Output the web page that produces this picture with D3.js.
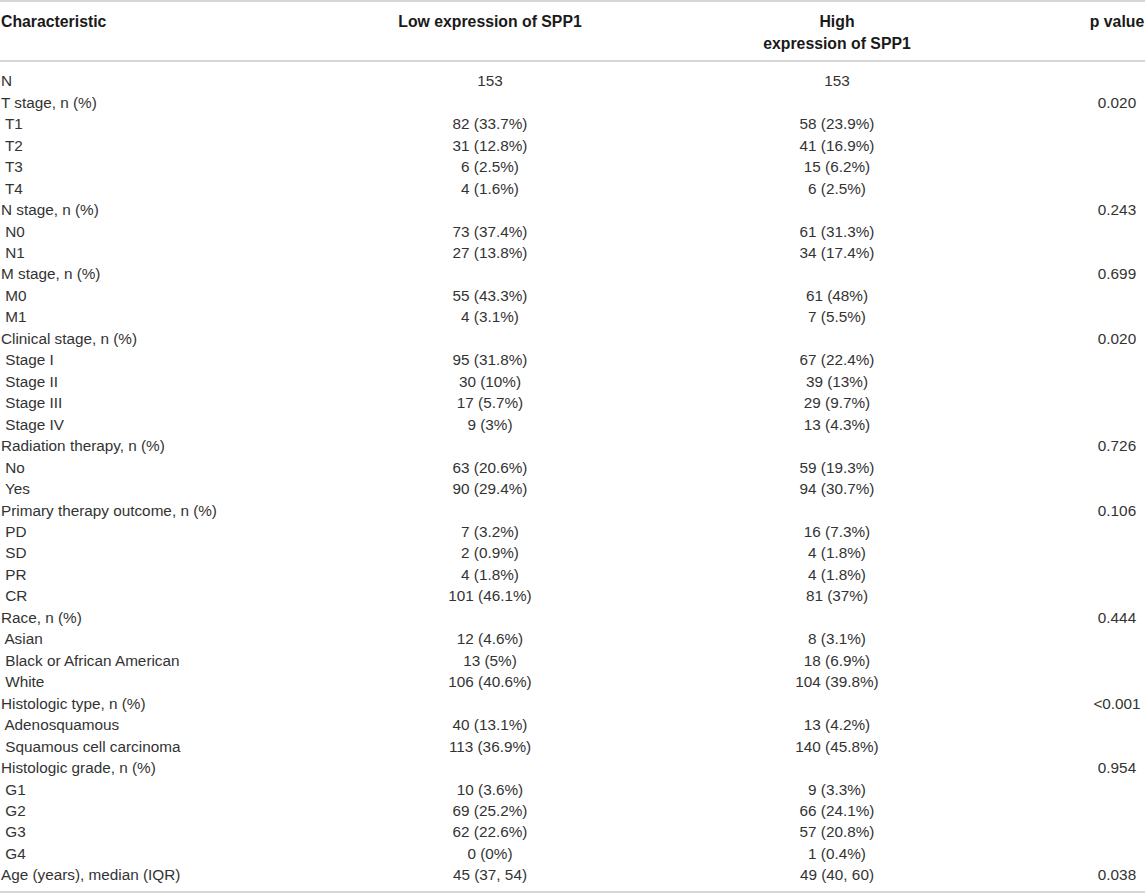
<!DOCTYPE html>
<html>
<head>
<meta charset="utf-8">
<script src="https://cdn.jsdelivr.net/npm/d3@7"></script>
<style>
  html, body { margin: 0; padding: 0; background: #fff; }
  svg { display: block; }
</style>
</head>
<body>
<svg id="chart" width="1145" height="895"></svg>
<script>
// ---- data ----
const headers = ["Characteristic", "Low expression of SPP1", ["High", "expression of SPP1"], "p value"];
const characteristics = [
  "N", "T stage, n (%)", " T1", " T2", " T3", " T4",
  "N stage, n (%)", " N0", " N1",
  "M stage, n (%)", " M0", " M1",
  "Clinical stage, n (%)", " Stage I", " Stage II", " Stage III", " Stage IV",
  "Radiation therapy, n (%)", " No", " Yes",
  "Primary therapy outcome, n (%)", " PD", " SD", " PR", " CR",
  "Race, n (%)", " Asian", " Black or African American", " White",
  "Histologic type, n (%)", " Adenosquamous", " Squamous cell carcinoma",
  "Histologic grade, n (%)", " G1", " G2", " G3", " G4",
  "Age (years), median (IQR)"
];
const lowValues = [
  "153", "", "82 (33.7%)", "31 (12.8%)", "6 (2.5%)", "4 (1.6%)",
  "", "73 (37.4%)", "27 (13.8%)",
  "", "55 (43.3%)", "4 (3.1%)",
  "", "95 (31.8%)", "30 (10%)", "17 (5.7%)", "9 (3%)",
  "", "63 (20.6%)", "90 (29.4%)",
  "", "7 (3.2%)", "2 (0.9%)", "4 (1.8%)", "101 (46.1%)",
  "", "12 (4.6%)", "13 (5%)", "106 (40.6%)",
  "", "40 (13.1%)", "113 (36.9%)",
  "", "10 (3.6%)", "69 (25.2%)", "62 (22.6%)", "0 (0%)",
  "45 (37, 54)"
];
const highValues = [
  "153", "", "58 (23.9%)", "41 (16.9%)", "15 (6.2%)", "6 (2.5%)",
  "", "61 (31.3%)", "34 (17.4%)",
  "", "61 (48%)", "7 (5.5%)",
  "", "67 (22.4%)", "39 (13%)", "29 (9.7%)", "13 (4.3%)",
  "", "59 (19.3%)", "94 (30.7%)",
  "", "16 (7.3%)", "4 (1.8%)", "4 (1.8%)", "81 (37%)",
  "", "8 (3.1%)", "18 (6.9%)", "104 (39.8%)",
  "", "13 (4.2%)", "140 (45.8%)",
  "", "9 (3.3%)", "66 (24.1%)", "57 (20.8%)", "1 (0.4%)",
  "49 (40, 60)"
];
const pValues = [
  "", "0.020", "", "", "", "",
  "0.243", "", "",
  "0.699", "", "",
  "0.020", "", "", "", "",
  "0.726", "", "",
  "0.106", "", "", "", "",
  "0.444", "", "", "",
  "<0.001", "", "",
  "0.954", "", "", "", "",
  "0.038"
];

// ---- layout ----
const svg = d3.select("#chart");
const font = "'Liberation Sans', Arial, Helvetica, sans-serif";
const fsHead = 15.8;
const fsBody = 15.3;

const y = d3.scalePoint().domain(d3.range(characteristics.length)).range([81, 875]);
const colX = d3.scaleOrdinal().domain(["char", "low", "high", "p"]).range([1, 490, 837, 1117]);

// rules
const rules = [1, 61, 892];
svg.selectAll("line.rule").data(rules).join("line")
  .attr("class", "rule")
  .attr("x1", 0).attr("x2", 1145)
  .attr("y1", d => d).attr("y2", d => d)
  .attr("stroke", "#d6d6d6").attr("stroke-width", 2);

// header
const hdr = svg.append("g").attr("font-family", font).attr("font-size", fsHead)
  .attr("font-weight", "bold").attr("fill", "#1a1a1a");
hdr.append("text").attr("x", colX("char")).attr("y", 21).attr("dy", "0.35em").text(headers[0]);
hdr.append("text").attr("x", colX("low")).attr("y", 21).attr("dy", "0.35em")
  .attr("text-anchor", "middle").text(headers[1]);
hdr.selectAll("text.hh").data(headers[2]).join("text").attr("class", "hh")
  .attr("x", colX("high")).attr("y", (d, i) => 21 + i * 22).attr("dy", "0.35em")
  .attr("text-anchor", "middle").text(d => d);
hdr.append("text").attr("x", colX("p")).attr("y", 21).attr("dy", "0.35em")
  .attr("text-anchor", "middle").text(headers[3]);

// body
const body = svg.append("g").attr("font-family", font).attr("font-size", fsBody).attr("fill", "#333");
const rows = body.selectAll("g.row").data(characteristics.map((c, i) => ({c, i})))
  .join("g").attr("class", "row").attr("transform", d => `translate(0,${y(d.i)})`);
rows.append("text").attr("x", colX("char")).attr("dy", "0.35em")
  .attr("xml:space", "preserve").style("white-space", "pre").text(d => d.c);
rows.append("text").attr("x", colX("low")).attr("dy", "0.35em").attr("text-anchor", "middle")
  .text(d => lowValues[d.i]);
rows.append("text").attr("x", colX("high")).attr("dy", "0.35em").attr("text-anchor", "middle")
  .text(d => highValues[d.i]);
rows.append("text").attr("x", colX("p")).attr("dy", "0.35em").attr("text-anchor", "middle")
  .text(d => pValues[d.i]);
</script>
</body>
</html>
